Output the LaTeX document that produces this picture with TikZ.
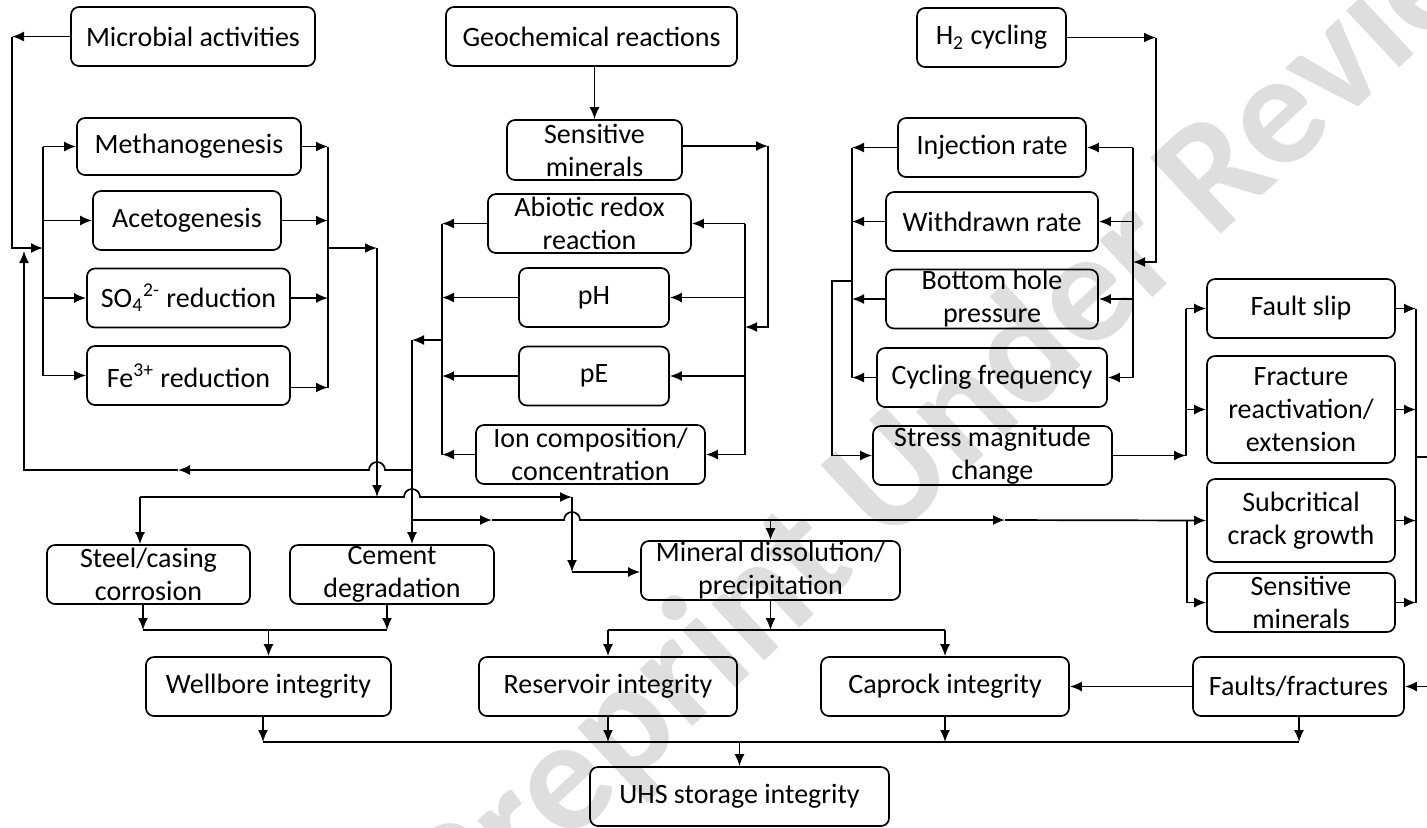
\documentclass[tikz,border=0pt]{standalone}
\usepackage{fontspec}
\setmainfont{Carlito}
\usetikzlibrary{calc, arrows.meta}
\tikzset{>={Latex[length=6pt,width=5pt]}}

\begin{document}
\begin{tikzpicture}[x=0.5pt, y=-0.5pt, line width=0.85pt,
  font=\fontsize{14}{16.5}\selectfont,
  box/.style={draw, rounded corners=4pt, align=center, inner sep=0pt, minimum height=29.5pt}]
\path[fill=white, use as bounding box] (0,0) rectangle (1427,827);
\node[rotate=43, text=black!13, font=\fontsize{80}{80}\selectfont\bfseries] (wm) at (985,395) {Preprint Under Review};

% boxes
\node[box, minimum width=122pt] (micro) at (193,36.5) {Microbial activities};
\node[box, minimum width=145.5pt] (geo) at (591.5,36.5) {Geochemical reactions};
\node[box, minimum width=74.5pt] (htwo) at (991.5,37.5) {H\textsubscript{2} cycling};
\node[box, minimum width=112pt, minimum height=28.5pt] (methano) at (189,146.5) {Methanogenesis};
\node[box, minimum width=94pt] (aceto) at (187,220.5) {Acetogenesis};
\node[box, minimum width=101.5pt] (sulf) at (188.5,298) {SO\textsubscript{4}\textsuperscript{2-} reduction};
\node[box, minimum width=101.5pt] (iron) at (188.5,375.5) {Fe\textsuperscript{3+} reduction};
\node[box, minimum width=87.5pt, minimum height=30pt] (sensA) at (594.5,150) {Sensitive\\minerals};
\node[box, minimum width=101.5pt] (abiotic) at (589.5,223.5) {Abiotic redox\\reaction};
\node[box, minimum width=75pt] (ph) at (594,297.5) {pH};
\node[box, minimum width=75pt] (pe) at (594,376) {pE};
\node[box, minimum width=114.5pt] (ion) at (590.5,454.5) {Ion composition/\\concentration};
\node[box, minimum width=94pt] (inj) at (992,147.5) {Injection rate};
\node[box, minimum width=106pt] (withdr) at (992,221.5) {Withdrawn rate};
\node[box, minimum width=106pt] (bhp) at (992,299) {Bottom hole\\pressure};
\node[box, minimum width=115pt] (cyc) at (992,377.5) {Cycling frequency};
\node[box, minimum width=119.5pt] (stress) at (992.5,455.5) {Stress magnitude\\change};
\node[box, minimum width=94pt] (fault) at (1301,308.5) {Fault slip};
\node[box, minimum width=94pt, minimum height=53.5pt] (fract) at (1301,409.5) {Fracture\\reactivation/\\extension};
\node[box, minimum width=94pt, minimum height=41.5pt] (subcrit) at (1301,520.5) {Subcritical\\crack growth};
\node[box, minimum width=94pt] (sensB) at (1301,602.5) {Sensitive\\minerals};
\node[box, minimum width=105.5pt] (faults) at (1298.5,686.5) {Faults/fractures};
\node[box, minimum width=101.5pt] (steel) at (148.5,574.5) {Steel/casing\\corrosion};
\node[box, minimum width=102pt] (cement) at (392,574.5) {Cement\\degradation};
\node[box, minimum width=129.5pt] (mineral) at (770.5,570.5) {Mineral dissolution/\\precipitation};
\node[box, minimum width=122.5pt] (wellbore) at (268.5,686.5) {Wellbore integrity};
\node[box, minimum width=129pt] (reservoir) at (608,686.5) {Reservoir integrity};
\node[box, minimum width=124pt] (caprock) at (945,686.5) {Caprock integrity};
\node[box, minimum width=149.5pt] (uhs) at (739.5,796.5) {UHS storage integrity};

% junctions
\coordinate (mTL) at (12,36.5);
\coordinate (mIn) at (43,248);
\coordinate (mOut) at (328,248);
\coordinate (mDn) at (377,248);
\coordinate (ironR) at ([yshift=-6pt]iron.east);
\coordinate (gTR) at (768,146);
\coordinate (gIn) at (745,327);
\coordinate (gOut) at (442,340);
\coordinate (gDn) at (412,340);
\coordinate (hTR) at (1156,37.5);
\coordinate (hIn) at (1133,262);
\coordinate (hOut) at (852,281);
\coordinate (hK) at (832,281);
\coordinate (sIn) at (1186,455.5);
\coordinate (rOut) at (1416,457);
\coordinate (rEdge) at (1436,457);
\coordinate (fbR) at (412,470);
\coordinate (fbM) at (178,470);
\coordinate (fbL) at (24,470);
\coordinate (fbT) at (24,251);
\coordinate (wL) at (140,497);
\coordinate (wR) at (572,497);
\coordinate (wC) at (572,572);
\coordinate (cL) at (412,520);
\coordinate (cA) at (492,520);
\coordinate (cB) at (1005,520);
\coordinate (cK) at (1187,520);
\coordinate (j1) at (377,470);
\coordinate (j2) at (412,497);
\coordinate (j3) at (572,520);
\coordinate (wbL) at (143,630);
\coordinate (wbR) at (387,630);
\coordinate (rcL) at (608,630);
\coordinate (rcR) at (945,630);
\coordinate (uL) at (263,742);
\coordinate (uR) at (1299,742);

% microbial activities
\draw[->] (micro.west) -- (mTL);
\draw[->] (mTL) |- (mIn);
\draw (mIn |- methano) -- (mIn |- iron);
\foreach \n in {methano,aceto,sulf,iron} \draw[->] (mIn |- \n) -- (\n);
\draw (mOut |- methano) -- (mOut |- ironR);
\foreach \n in {methano,aceto,sulf} \draw[->] (\n) -- (mOut |- \n);
\draw[->] (ironR) -- (mOut |- ironR);
\draw[->] (mOut) -- (mDn);
\draw[->] (mDn) -- (mDn |- wL);

% geochemical reactions
\draw[->] (sensA.north |- geo.south) -- (sensA.north);
\draw[->] (sensA.east |- gTR) -- (gTR);
\draw[->] (gTR) |- (gIn);
\draw (gIn |- abiotic) -- (gIn |- ion);
\foreach \n in {abiotic,ph,pe,ion} \draw[->] (gIn |- \n) -- (\n);
\draw (gOut |- abiotic) -- (gOut |- ion);
\foreach \n in {abiotic,ph,pe,ion} \draw[->] (\n) -- (gOut |- \n);
\draw[->] (gOut) -- (gDn);
\draw[->] (gDn) -- (gDn |- cement.north);

% H2 cycling
\draw[->] (htwo.east) -- (hTR);
\draw[->] (hTR) |- (hIn);
\draw (hIn |- inj) -- (hIn |- cyc);
\foreach \n in {inj,withdr,bhp,cyc} \draw[->] (hIn |- \n) -- (\n);
\draw (hOut |- inj) -- (hOut |- cyc);
\foreach \n in {inj,withdr,bhp,cyc} \draw[->] (\n) -- (hOut |- \n);
\draw[->] (hOut) -- (hK) |- (stress.west);
\draw[->] (stress.east) -- (sIn);
\draw (sIn) -- (sIn |- fault);
\foreach \n in {fault,fract} \draw[->] (sIn |- \n) -- (\n);
\draw (rOut |- fault) -- (rOut |- sensB);
\foreach \n in {fault,fract,subcrit,sensB} \draw[->] (\n) -- (rOut |- \n);
\draw[->] (rOut) -- (rEdge) |- (faults.east);
\draw[->] (faults) -- (caprock);

% crossing lines
\draw[->] (fbR) -- ([xshift=4pt]j1) arc[start angle=0, end angle=180, radius=4pt] -- (fbM);
\draw[->] (fbM) -- (fbL) -- (fbT);
\draw[->] (wL) -- (wL |- steel.north);
\draw[->] (wL) -- ([xshift=-4pt]j2) arc[start angle=180, end angle=0, radius=4pt] -- (wR);
\draw[->] (wR) -- (wC);
\draw[->] (wC) -- (mineral.west |- wC);
\draw[->] (cL) -- (cA);
\draw[->] (cA) -- ([xshift=-4pt]j3) arc[start angle=180, end angle=0, radius=4pt] -- (cB);
\draw[->] (cB) -- (subcrit.west);
\draw[->] (mineral.north |- cB) -- (mineral.north);
\draw[->] (cK) |- (sensB.west);

% integrity
\draw[->] (steel.south -| wbL) -- (wbL);
\draw[->] (cement.south -| wbR) -- (wbR);
\draw (wbL) -- (wbR);
\draw[->] (wellbore.north |- wbL) -- (wellbore.north);
\draw[->] (mineral.south) -- (mineral.south |- rcL);
\draw (rcL) -- (rcR);
\draw[->] (rcL) -- (reservoir.north);
\draw[->] (rcR) -- (caprock.north);
\draw[->] (wellbore.south -| uL) -- (uL);
\draw[->] (reservoir.south) -- (reservoir.south |- uL);
\draw[->] (caprock.south) -- (caprock.south |- uL);
\draw[->] (faults.south -| uR) -- (uR);
\draw (uL) -- (uR);
\draw[->] (uhs.north |- uL) -- (uhs.north);
\end{tikzpicture}
\end{document}
